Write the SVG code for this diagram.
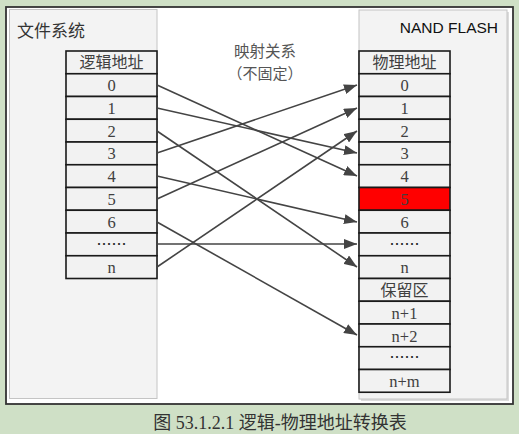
<svg xmlns="http://www.w3.org/2000/svg" width="519" height="434" viewBox="0 0 519 434">
<style>
.cell{fill:#f2f2f2;stroke:#1a1a1a;stroke-width:1.6}
.red{fill:#ff0000;stroke:#1a1a1a;stroke-width:1.6}
.num{font-family:"Liberation Serif","Noto Sans CJK SC",serif;font-size:16.5px;fill:#404040;text-anchor:middle}
.cjk{font-family:"Noto Sans CJK SC",sans-serif;font-size:16px;fill:#404040;text-anchor:middle}
.dots{font-family:"Noto Sans CJK SC",sans-serif;font-size:15px;fill:#202020;text-anchor:middle}
.panel{fill:#f3f3f3;stroke:#c4c4c4;stroke-width:1}
.conn line{stroke:#444;stroke-width:1.6;fill:none}
</style>
<defs>
<marker id="ah" viewBox="0 0 13 10" refX="13" refY="5" markerWidth="13" markerHeight="10" markerUnits="userSpaceOnUse" orient="auto">
<path d="M0,0 L13,5 L0,10 Z" fill="#444"/>
</marker>
</defs>
<rect x="0" y="0" width="519" height="434" fill="#cfe0c6"/>
<rect x="6" y="7" width="507" height="397" fill="#ffffff" stroke="#333" stroke-width="1.8"/>
<g id="fs-panel">
<rect class="panel" x="9.5" y="9.5" width="147.5" height="389"/>
<text x="17" y="37" font-family="Noto Sans CJK SC,sans-serif" font-size="17" fill="#333">文件系统</text>
</g>
<g id="nand-panel">
<rect x="361" y="12" width="148" height="389" fill="#dcdcdc"/>
<rect class="panel" x="359" y="10" width="148" height="389"/>
<text x="498" y="33" font-family="Liberation Sans,Arial,sans-serif" font-size="15.5" fill="#111" text-anchor="end">NAND FLASH</text>
</g>
<g id="mapping-label">
<text x="265" y="57" font-family="Noto Sans CJK SC,sans-serif" font-size="15.5" fill="#555" text-anchor="middle">映射关系</text>
<text x="265" y="79" font-family="Noto Sans CJK SC,sans-serif" font-size="15" fill="#555" text-anchor="middle">（不固定）</text>
</g>
<g id="logical-table">
<rect class="cell" x="66" y="51" width="91" height="22.75"/>
<text class="cjk" x="111.5" y="68">逻辑地址</text>
<rect class="cell" x="66" y="73.75" width="91" height="22.75"/><text class="num" x="111.5" y="91">0</text>
<rect class="cell" x="66" y="96.5" width="91" height="22.75"/><text class="num" x="111.5" y="113.5">1</text>
<rect class="cell" x="66" y="119.25" width="91" height="22.75"/><text class="num" x="111.5" y="136.5">2</text>
<rect class="cell" x="66" y="142" width="91" height="22.75"/><text class="num" x="111.5" y="159">3</text>
<rect class="cell" x="66" y="164.75" width="91" height="22.75"/><text class="num" x="111.5" y="182">4</text>
<rect class="cell" x="66" y="187.5" width="91" height="22.75"/><text class="num" x="111.5" y="204.5">5</text>
<rect class="cell" x="66" y="210.25" width="91" height="22.75"/><text class="num" x="111.5" y="227.5">6</text>
<rect class="cell" x="66" y="233" width="91" height="22.75"/><text class="dots" x="111.5" y="249.5">……</text>
<rect class="cell" x="66" y="255.75" width="91" height="22.75"/><text class="num" x="111.5" y="273">n</text>
</g>
<g id="physical-table">
<rect class="cell" x="359" y="51" width="91" height="22.75"/>
<text class="cjk" x="404.5" y="68">物理地址</text>
<rect class="cell" x="359" y="73.75" width="91" height="22.75"/><text class="num" x="404.5" y="91">0</text>
<rect class="cell" x="359" y="96.5" width="91" height="22.75"/><text class="num" x="404.5" y="113.5">1</text>
<rect class="cell" x="359" y="119.25" width="91" height="22.75"/><text class="num" x="404.5" y="136.5">2</text>
<rect class="cell" x="359" y="142" width="91" height="22.75"/><text class="num" x="404.5" y="159">3</text>
<rect class="cell" x="359" y="164.75" width="91" height="22.75"/><text class="num" x="404.5" y="182">4</text>
<rect class="red" x="359" y="187.5" width="91" height="22.75"/><text class="num" x="404.5" y="204.5" fill="#400000">5</text>
<rect class="cell" x="359" y="210.25" width="91" height="22.75"/><text class="num" x="404.5" y="227.5">6</text>
<rect class="cell" x="359" y="233" width="91" height="22.75"/><text class="dots" x="404.5" y="249.5">……</text>
<rect class="cell" x="359" y="255.75" width="91" height="22.75"/><text class="num" x="404.5" y="273">n</text>
<rect class="cell" x="359" y="278.5" width="91" height="22.75"/><text class="cjk" x="404.5" y="295.5">保留区</text>
<rect class="cell" x="359" y="301.25" width="91" height="22.75"/><text class="num" x="404.5" y="318.5">n+1</text>
<rect class="cell" x="359" y="324" width="91" height="22.75"/><text class="num" x="404.5" y="341.5">n+2</text>
<rect class="cell" x="359" y="346.75" width="91" height="22.75"/><text class="dots" x="404.5" y="363">……</text>
<rect class="cell" x="359" y="369.5" width="91" height="22.75"/><text class="num" x="404.5" y="386.5">n+m</text>
</g>
<g id="connectors" class="conn">
<line x1="157" y1="85" x2="357" y2="176" marker-end="url(#ah)"/>
<line x1="157" y1="108" x2="357" y2="153" marker-end="url(#ah)"/>
<line x1="157" y1="131" x2="357" y2="267" marker-end="url(#ah)"/>
<line x1="157" y1="153" x2="357" y2="85" marker-end="url(#ah)"/>
<line x1="157" y1="176" x2="357" y2="222" marker-end="url(#ah)"/>
<line x1="157" y1="199" x2="357" y2="108" marker-end="url(#ah)"/>
<line x1="157" y1="222" x2="357" y2="335" marker-end="url(#ah)"/>
<line x1="157" y1="244" x2="357" y2="244" marker-end="url(#ah)"/>
<line x1="157" y1="267" x2="357" y2="131" marker-end="url(#ah)"/>
</g>
<text x="280" y="429" font-family="Liberation Serif,Noto Sans CJK SC,serif" font-size="18" fill="#333" text-anchor="middle">图 53.1.2.1 逻辑-物理地址转换表</text>
</svg>
